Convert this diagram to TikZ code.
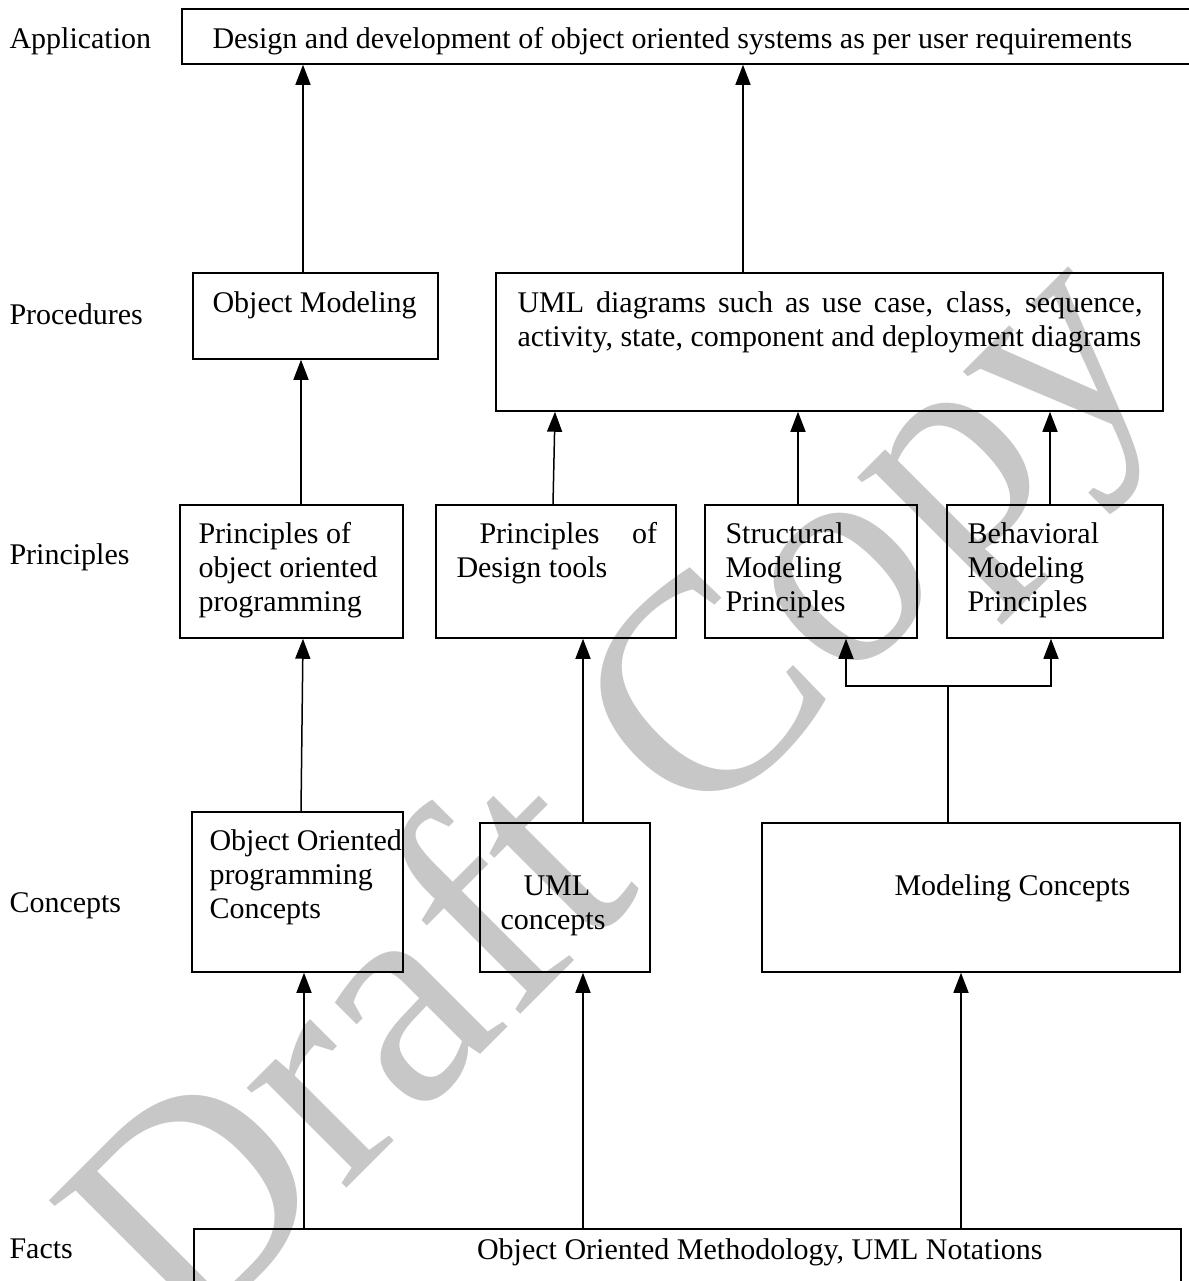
\documentclass[tikz,border=0pt]{standalone}
\usepackage{fontspec}
\setmainfont{Liberation Serif}
\usetikzlibrary{arrows.meta,fit}

\begin{document}
\begin{tikzpicture}[x=0.4pt,y=-0.4pt,
  box/.style={draw,line width=0.6pt,inner sep=0pt},
  txt/.style={inner sep=0pt,anchor=base west,align=left,font=\fontsize{12}{13.5}\selectfont},
  arr/.style={line width=0.6pt,-{Triangle[length=8pt,width=6pt]}},
  wmark/.style={inner sep=0pt,anchor=base west,rotate=45,text=black!22,font=\fontsize{123}{123}\selectfont}]
\useasboundingbox (0,0) rectangle (1188,1281);
\node[wmark] (draft) at (185,1350) {Draft Copy};

\node[box,fit={(182,9)(1195,64)}] (app) {};
\node[box,fit={(193,273)(438,359)}] (om) {};
\node[box,fit={(496,273)(1163,411)}] (uml) {};
\node[box,fit={(180,505)(403,638)}] (p1) {};
\node[box,fit={(436,505)(676,638)}] (p2) {};
\node[box,fit={(705,505)(917,638)}] (p3) {};
\node[box,fit={(947,505)(1163,638)}] (p4) {};
\node[box,fit={(192,812)(403,972)}] (c1) {};
\node[box,fit={(480,823)(650,972)}] (c2) {};
\node[box,fit={(762,823)(1180,972)}] (c3) {};
\node[box,fit={(194,1229)(1181,1300)}] (facts) {};

\node[txt] (lapp) at (9,48) {Application};
\node[txt] (lproc) at (9,324) {Procedures};
\node[txt] (lprin) at (9,564) {Principles};
\node[txt] (lconc) at (9,912) {Concepts};
\node[txt] (lfact) at (9,1258) {Facts};

\node[txt] (appt) at (212,48) {Design and development of object oriented systems as per user requirements};
\node[txt] (omt) at (212,312) {Object Modeling};
\node[txt] (umlt) at (517,346) {\makebox[250pt][s]{UML diagrams such as use case, class, sequence,}\\activity, state, component and deployment diagrams};
\node[txt] (p1t) at (198,611) {Principles of\\object oriented\\programming};
\node[txt] (p2t) at (456,577) {\hspace*{9.2pt}\makebox[71pt][s]{Principles of}\\Design tools};
\node[txt] (p3t) at (725,611) {Structural\\Modeling\\Principles};
\node[txt] (p4t) at (967,611) {Behavioral\\Modeling\\Principles};
\node[txt] (c1t) at (209,918) {Object Oriented\\programming\\Concepts};
\node[txt] (c2t) at (500,929) {\hspace*{9.2pt}UML\\concepts};
\node[txt] (c3t) at (894,895) {Modeling Concepts};
\node[txt,anchor=base east] (factst) at (1043,1259) {Object Oriented Methodology, UML Notations};

\draw[arr] (303,0 |- om.north) -- (303,0 |- app.south);
\draw[arr] (743,0 |- uml.north) -- (743,0 |- app.south);
\draw[arr] (301,0 |- p1.north) -- (301,0 |- om.south);
\draw[arr] (553,0 |- p2.north) -- (555,0 |- uml.south);
\draw[arr] (798,0 |- p3.north) -- (798,0 |- uml.south);
\draw[arr] (1050,0 |- p4.north) -- (1050,0 |- uml.south);
\draw[arr] (301,0 |- c1.north) -- (303,0 |- p1.south);
\draw[arr] (583,0 |- c2.north) -- (583,0 |- p2.south);
\draw[line width=0.6pt] (948,0 |- c3.north) -- (948,686) coordinate (split);
\draw[arr] (split) -| (846,0 |- p3.south);
\draw[arr] (split) -| (1051,0 |- p4.south);
\foreach \x/\n in {304/c1,583/c2,961/c3}
  \draw[arr] (\x,0 |- facts.north) -- (\x,0 |- \n.south);
\end{tikzpicture}
\end{document}
